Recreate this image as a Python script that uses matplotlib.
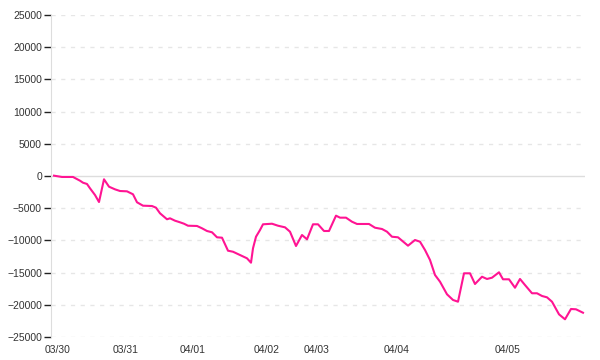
import numpy as np
import matplotlib
matplotlib.use("Agg")
import matplotlib.pyplot as plt

plt.rcParams["font.family"] = ["Liberation Sans", "DejaVu Sans"]

# sample position along the x axis and the running value
t = [0, 8, 19, 26, 29, 33, 36, 41, 45, 50, 55, 61, 66, 73, 79, 83, 89, 98, 102, 106,
     113, 116, 121, 126, 130, 134, 143, 148, 153, 158, 163, 168, 174, 179, 186, 193, 197, 199, 202, 206,
     209, 218, 224, 231, 236, 242, 248, 253, 259, 264, 270, 275, 282, 286, 292, 298, 303, 315, 321, 328,
     333, 338, 344, 354, 361, 366, 371, 376, 381, 386, 393, 399, 404, 410, 416, 421, 428, 433, 438, 445,
     449, 455, 461, 466, 471, 478, 483, 488, 493, 498, 505, 511, 517, 522, 529]
values = [50, -150, -150, -730, -1040, -1240, -1910, -2950, -4040, -510, -1660, -2070, -2330, -2380, -2840, -4080, -4610, -4660, -4920, -5790,
          -6720, -6570, -6940, -7190, -7410, -7720, -7760, -8120, -8540, -8740, -9520, -9580, -11600, -11760, -12270, -12780, -13460, -11230, -9430, -8390,
          -7500, -7410, -7720, -7970, -8650, -10870, -9160, -9830, -7500, -7500, -8540, -8540, -6160, -6470, -6470, -7100, -7450, -7450, -8030, -8230,
          -8650, -9430, -9520, -10820, -9940, -10200, -11490, -13040, -15370, -16410, -18370, -19250, -19520, -15110, -15110, -16770, -15640, -15990, -15790, -14950,
          -16040, -16040, -17350, -15990, -16930, -18210, -18210, -18630, -18840, -19520, -21480, -22250, -20650, -20700, -21230]

date_pos = [4, 72, 139, 213, 263, 343, 454]
date_labels = ["03/30", "03/31", "04/01", "04/02", "04/03", "04/04", "04/05"]
yticks = [-25000, -20000, -15000, -10000, -5000, 0, 5000, 10000, 15000, 20000, 25000]

fig = plt.figure(figsize=(6, 3.6), dpi=100)
ax = fig.add_axes([51/600, 23/360, 534/600, 322/360])

for y in yticks:
    if y == 0:
        ax.axhline(0, color="#dddddd", lw=1, zorder=1)
    else:
        ax.axhline(y, color="#e6e6e6", lw=1, ls=(0, (3, 4)), zorder=1)

ax.plot(t, values, color="#ff1493", lw=1.5, zorder=3)

ax.set_xlim(-3, 531)
ax.set_ylim(-25000, 25000)
ax.set_yticks(yticks)
ax.set_yticklabels([str(y).replace("-", "\u2212") for y in yticks])
ax.set_xticks(date_pos)
ax.set_xticklabels(date_labels)

for s in ["top", "right", "bottom"]:
    ax.spines[s].set_visible(False)
ax.spines["left"].set_color("#dddddd")
ax.tick_params(axis="y", length=5, width=1, color="#222222", labelsize=7.5, labelcolor="#333333", pad=1.5)
ax.tick_params(axis="x", length=0, labelsize=7.5, labelcolor="#333333", pad=6)

fig.savefig("out.png", dpi=100)
